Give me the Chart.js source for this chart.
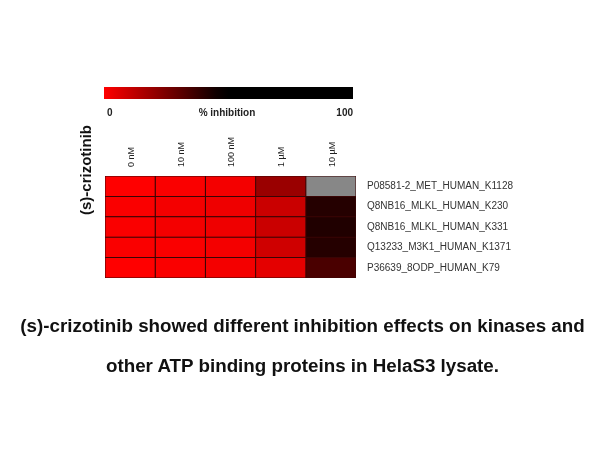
<!DOCTYPE html>
<html>
<head>
<meta charset="utf-8">
<script src="https://cdn.jsdelivr.net/npm/chart.js@4/dist/chart.umd.min.js"></script>
<style>
  body { margin: 0; background: #fff; }
  #wrap { position: relative; width: 605px; height: 454px; }
  #caption {
    position: absolute; left: 0; top: 306px; width: 605px;
    text-align: center; font: bold 18.8px "Liberation Sans", Arial, sans-serif;
    line-height: 40px; color: #111;
  }
</style>
</head>
<body>
<div id="wrap">
  <canvas id="heat" width="605" height="454"></canvas>
  <div id="caption">(s)-crizotinib showed different inhibition effects on kinases and<br>other ATP binding proteins in HelaS3 lysate.</div>
</div>
<script>
const concLabels = ["0 nM", "10 nM", "100 nM", "1 \u00b5M", "10 \u00b5M"];
const proteins = [
  "P08581-2_MET_HUMAN_K1128",
  "Q8NB16_MLKL_HUMAN_K230",
  "Q8NB16_MLKL_HUMAN_K331",
  "Q13233_M3K1_HUMAN_K1371",
  "P36639_8ODP_HUMAN_K79"
];
// % inhibition, one row per protein, one column per concentration (null = no value)
const inhibition = [
  [0, 1, 2, 19, null],
  [1, 2, 3, 10, 41],
  [1, 2, 3, 10, 42],
  [1, 1, 2, 9, 41],
  [0, 1, 2, 5, 34]
];
const scaleMin = 0;
const scaleMax = 100;

// red -> black at ~48%, black after that
function colorFor(v) {
  if (v === null || v === undefined) return "#878787";
  const r = Math.max(0, Math.round(255 * (1 - v / 48)));
  return "rgb(" + r + ",0,0)";
}

const datasets = concLabels.map((c, j) => ({
  label: c,
  data: proteins.map(() => [j, j + 1]),
  backgroundColor: proteins.map((p, i) => colorFor(inhibition[i][j])),
  borderColor: "#3a0505",
  borderSkipped: false,
  borderWidth: 1,
  inflateAmount: 0.5,
  barPercentage: 1,
  categoryPercentage: 1
}));

const extras = {
  id: "extras",
  afterDraw(chart) {
    const c = chart.ctx;
    const a = chart.chartArea;
    // colour bar
    const x0 = a.left - 1, x1 = a.right - 3, y0 = 87, h = 12;
    const g = c.createLinearGradient(x0, 0, x1, 0);
    for (let k = 0; k <= 20; k++) {
      const v = scaleMin + (scaleMax - scaleMin) * k / 20;
      g.addColorStop(k / 20, colorFor(v));
    }
    c.save();
    c.fillStyle = g;
    c.fillRect(x0, y0, x1 - x0, h);
    c.fillStyle = "#222";
    c.font = "bold 10px 'Liberation Sans', Arial, sans-serif";
    c.textBaseline = "middle";
    c.textAlign = "left";
    c.fillText(String(scaleMin), x0 + 3, 113);
    c.textAlign = "center";
    c.fillText("% inhibition", 227, 113);
    c.textAlign = "right";
    c.fillText(String(scaleMax), x1, 113);
    // left title
    c.translate(87, 170);
    c.rotate(-Math.PI / 2);
    c.textAlign = "center";
    c.font = "bold 15px 'Liberation Sans', Arial, sans-serif";
    c.fillStyle = "#111";
    c.fillText("(s)-crizotinib", 0, 0);
    c.restore();
  }
};

new Chart("heat", {
  type: "bar",
  data: { labels: proteins, datasets: datasets },
  options: {
    responsive: false,
    animation: false,
    indexAxis: "y",
    grouped: false,
    layout: { padding: { left: 105, top: 128, right: 81, bottom: 176 } },
    plugins: { legend: { display: false }, tooltip: { enabled: false } },
    scales: {
      x: {
        type: "linear",
        position: "top",
        min: 0,
        max: concLabels.length,
        afterBuildTicks: s => { s.ticks = concLabels.map((c, j) => ({ value: j + 0.5 })); },
        grid: { display: false, drawTicks: false },
        border: { display: false },
        ticks: {
          autoSkip: false,
          minRotation: 90,
          maxRotation: 90,
          padding: 9,
          labelOffset: 12,
          color: "#222",
          font: { family: "'Liberation Sans', Arial, sans-serif", size: 9 },
          callback: (v, i) => concLabels[i]
        }
      },
      y: {
        type: "category",
        position: "right",
        grid: { display: false, drawTicks: false },
        border: { display: false },
        ticks: {
          autoSkip: false,
          padding: 11,
          color: "#333",
          font: { family: "'Liberation Sans', Arial, sans-serif", size: 10 }
        }
      }
    }
  },
  plugins: [extras]
});
</script>
</body>
</html>
